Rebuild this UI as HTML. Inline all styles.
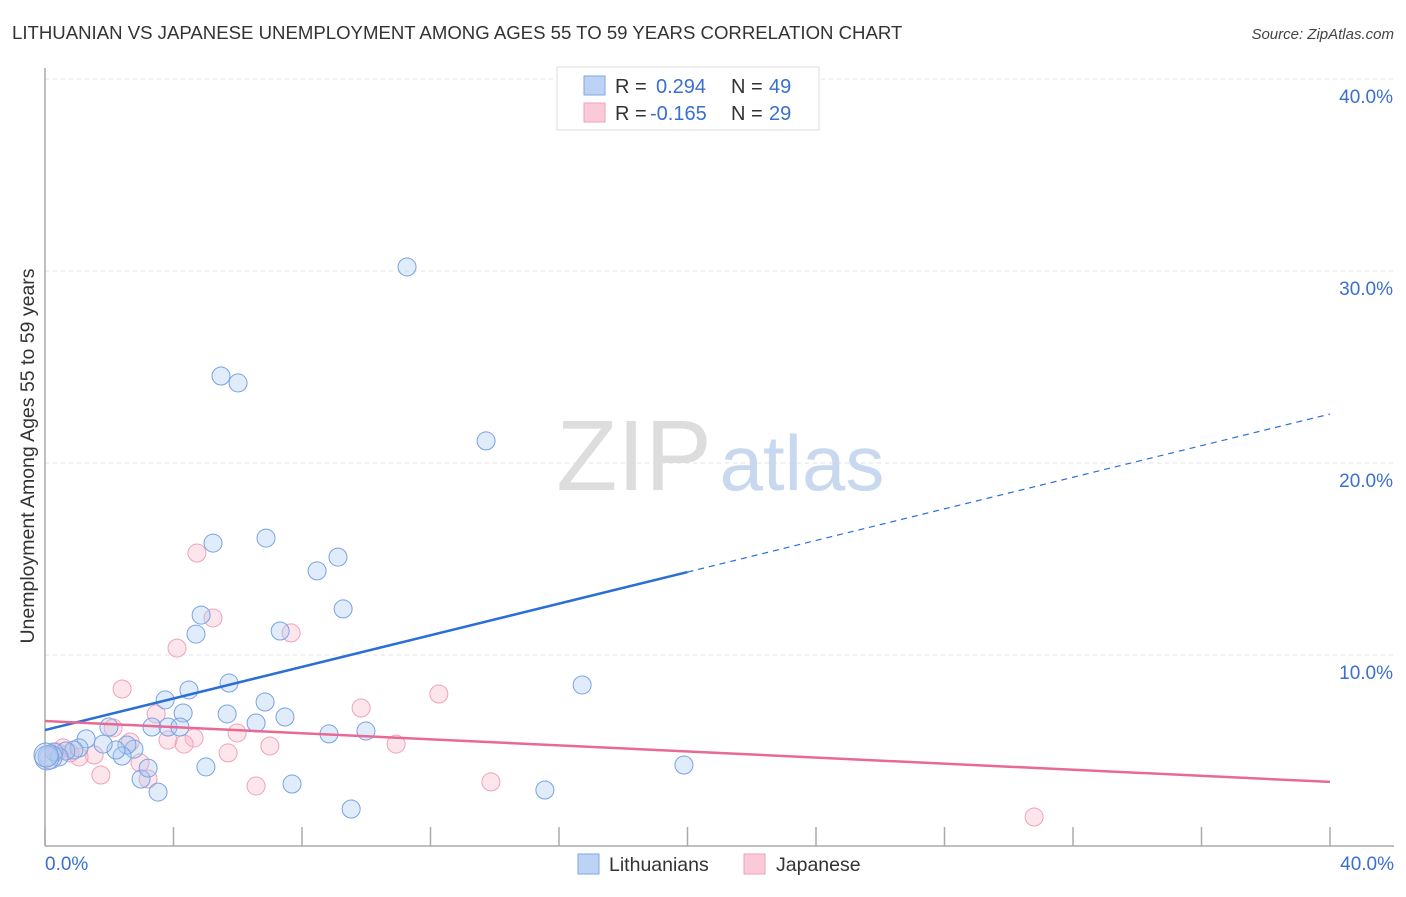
<!DOCTYPE html>
<html><head><meta charset="utf-8"><style>
body{margin:0;background:#fff;font-family:"Liberation Sans",sans-serif;}
svg text{font-family:"Liberation Sans",sans-serif;}
</style></head><body>
<svg id="chart" width="1406" height="892" viewBox="0 0 1406 892" xmlns="http://www.w3.org/2000/svg">
<text x="12" y="39" font-size="18.6" fill="#333">LITHUANIAN VS JAPANESE UNEMPLOYMENT AMONG AGES 55 TO 59 YEARS CORRELATION CHART</text>
<text x="1394" y="39" font-size="15" fill="#444" text-anchor="end" font-style="italic">Source: ZipAtlas.com</text>
<g id="grid"></g>
<g>
<text x="634" y="490" font-size="100" fill="#ddd" text-anchor="middle" font-family="Liberation Serif">ZIP</text>
<text x="802" y="490" font-size="78" fill="#c8d8ef" text-anchor="middle">atlas</text>
</g>
<line x1="45" y1="68" x2="45" y2="846" stroke="#aaa" stroke-width="1.5"/>
<line x1="45" y1="846" x2="1394" y2="846" stroke="#aaa" stroke-width="1.5"/>
<g id="ticks"></g>
<g id="ylabels"></g>
<text transform="translate(34,456) rotate(-90)" font-size="19.5" fill="#333" text-anchor="middle">Unemployment Among Ages 55 to 59 years</text>
<text x="45" y="870" font-size="19" fill="#3a6fd0">0.0%</text>
<text x="1394" y="870" font-size="19" fill="#3a6fd0" text-anchor="end">40.0%</text>
<g id="pts"></g>
<g id="lines"></g>
<g>
<rect x="557" y="67" width="262" height="63" fill="#fff" stroke="#ddd"/>
<rect x="584" y="76" width="21" height="19" fill="#bcd3f5" stroke="#7fa6e3"/>
<rect x="584" y="103" width="21" height="19" fill="#fbcad8" stroke="#f0a0b8"/>
<text x="615" y="93" font-size="20" fill="#333">R =</text>
<text x="656" y="93" font-size="20" fill="#3a6fd0">0.294</text>
<text x="731" y="93" font-size="20" fill="#333">N =</text>
<text x="769" y="93" font-size="20" fill="#3a6fd0">49</text>
<text x="615" y="120" font-size="20" fill="#333">R =</text>
<text x="650" y="120" font-size="20" fill="#3a6fd0">-0.165</text>
<text x="731" y="120" font-size="20" fill="#333">N =</text>
<text x="769" y="120" font-size="20" fill="#3a6fd0">29</text>
</g>
<g>
<rect x="578" y="854" width="21" height="20" fill="#bcd3f5" stroke="#7fa6e3"/>
<text x="609" y="871" font-size="19.5" fill="#333">Lithuanians</text>
</g>
<g>
<rect x="744" y="854" width="21" height="20" fill="#fbcad8" stroke="#f0a0b8"/>
<text x="776" y="871" font-size="19.5" fill="#333">Japanese</text>
</g>
</svg>
<script>
const blueX=[11.27,5.48,6.01,13.73,5.23,6.88,8.47,9.12,9.28,4.86,4.70,7.32,5.73,4.48,3.74,6.85,4.30,5.67,3.33,3.83,6.57,7.47,4.20,9.99,8.84,16.72,19.89,15.56,9.53,7.69,5.01,3.52,2.99,3.21,2.77,2.55,2.40,2.21,1.81,1.99,1.28,1.06,0.90,0.65,0.44,0.28,0.16,0.06,0.03];
const blueY=[30.21,24.53,24.17,21.15,15.83,16.09,14.38,15.10,12.40,12.08,11.09,11.25,8.54,8.18,7.66,7.55,6.98,6.93,6.25,6.25,6.46,6.77,6.25,6.04,5.89,8.44,4.27,2.97,1.98,3.28,4.17,2.86,3.54,4.11,5.10,5.31,4.74,5.05,5.36,6.25,5.63,5.16,5.05,5.00,4.69,4.95,4.69,4.64,4.79];
const pinkX=[4.73,5.23,7.66,4.11,2.40,3.46,9.84,12.26,4.64,3.83,4.33,2.65,2.12,5.98,7.00,5.70,10.93,13.88,6.57,3.21,2.96,1.74,1.53,1.06,0.78,0.37,0.12,30.79,0.56];
const pinkY=[15.31,11.93,11.15,10.36,8.23,6.93,7.24,7.97,5.68,5.57,5.36,5.47,6.20,5.94,5.26,4.90,5.36,3.39,3.18,3.54,4.38,3.75,4.79,4.69,4.90,4.95,4.69,1.56,5.16];
const blueLine=[6.09,22.55];
const pinkLine=[6.56,3.39];
const yTicks=[10,20,30,40];
const xTicks=[0,4,8,12,16,20,24,28,32,36,40];
const NS="http://www.w3.org/2000/svg";
const sx=v=>45+v*1285/40;
const sy=v=>847-v*19.2;
function mk(t,a,p){const e=document.createElementNS(NS,t);for(const k in a)e.setAttribute(k,a[k]);p.appendChild(e);return e;}
const grid=document.getElementById('grid'),ticks=document.getElementById('ticks'),yl=document.getElementById('ylabels');
yTicks.forEach(v=>{
 const l=mk('line',{x1:45,x2:1394,y1:sy(v),y2:sy(v),stroke:'#e2e2e2','stroke-dasharray':'4,4'},grid);
 
 
 const t=mk('text',{x:1393,y:sy(v)+24,'font-size':19,fill:'#3a6fd0','text-anchor':'end'},yl);
 t.textContent=v.toFixed(1)+'%';
 
 
});
xTicks.forEach(v=>{
 const l=mk('line',{x1:sx(v),x2:sx(v),y1:827,y2:846,stroke:'#aaa','stroke-width':1.5},ticks);
 
 
});
const pts=document.getElementById('pts');
pinkX.forEach((x,i)=>{
 const c=mk('circle',{cx:sx(x),cy:sy(pinkY[i]),r:9,fill:'rgba(248,180,200,0.35)',stroke:'#f0a2bb','stroke-width':1},pts);
 
 
});
blueX.forEach((x,i)=>{
 const c=mk('circle',{cx:sx(x),cy:sy(blueY[i]),r:i>=46?12:9,fill:'rgba(170,200,240,0.35)',stroke:'#78a2e2','stroke-width':1},pts);
 
 
});
const lines=document.getElementById('lines');
const bAt=x=>blueLine[0]+(blueLine[1]-blueLine[0])*x/40;
let l1=mk('line',{x1:sx(0),y1:sy(bAt(0)),x2:sx(20),y2:sy(bAt(20)),stroke:'#2a6fd6','stroke-width':2.5},lines);


let l2=mk('line',{x1:sx(20),y1:sy(bAt(20)),x2:sx(40),y2:sy(bAt(40)),stroke:'#2a6fd6','stroke-width':1.2,'stroke-dasharray':'6,5'},lines);


let l3=mk('line',{x1:sx(0),y1:sy(pinkLine[0]),x2:sx(40),y2:sy(pinkLine[1]),stroke:'#e86a94','stroke-width':2.5},lines);


</script>
</body></html>
